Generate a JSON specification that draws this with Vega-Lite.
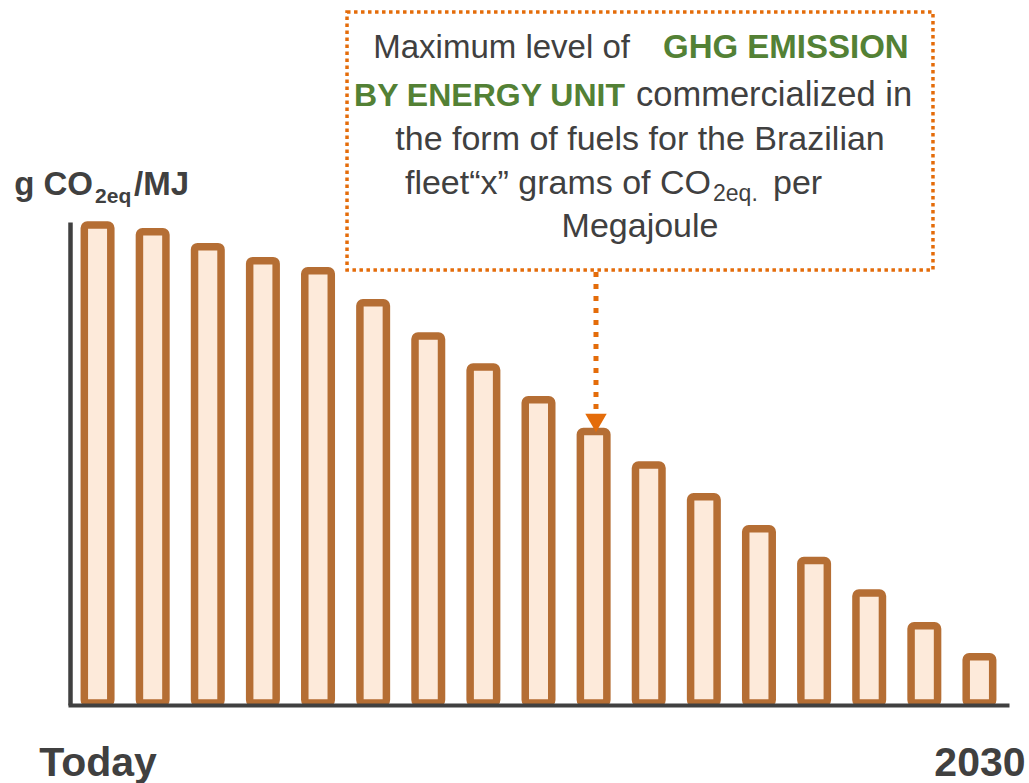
{
  "$schema": "https://vega.github.io/schema/vega-lite/v6.json",
  "width": 937,
  "height": 483,
  "autosize": {"type": "none"},
  "padding": {"left": 70, "top": 222, "right": 22, "bottom": 78},
  "background": "white",
  "config": {"view": {"stroke": null}, "text": {"font": "Liberation Sans", "color": "#404040"}},
  "layer": [
    {
      "data": {"values": [
        {"step": 1, "value": 99.4}, {"step": 2, "value": 98.0}, {"step": 3, "value": 94.9},
        {"step": 4, "value": 92.0}, {"step": 5, "value": 89.9}, {"step": 6, "value": 83.3},
        {"step": 7, "value": 76.4}, {"step": 8, "value": 70.0}, {"step": 9, "value": 63.2},
        {"step": 10, "value": 56.6}, {"step": 11, "value": 49.7}, {"step": 12, "value": 43.1},
        {"step": 13, "value": 36.5}, {"step": 14, "value": 29.9}, {"step": 15, "value": 23.2},
        {"step": 16, "value": 16.4}, {"step": 17, "value": 10.0}
      ]},
      "mark": {"type": "bar", "width": 26.5, "fill": "#FDEADA", "stroke": "#B56E34", "strokeWidth": 7.5, "cornerRadius": 3},
      "encoding": {
        "x": {"field": "step", "type": "quantitative",
          "scale": {"domain": [0.5, 17.5], "nice": false, "zero": false, "padding": 0},
          "axis": {"values": [1, 17], "labelExpr": "datum.value == 1 ? 'Today' : '2030'",
            "domain": true, "domainColor": "#404040", "domainWidth": 4, "domainCap": "square",
            "ticks": false, "tickSize": 0, "grid": false, "title": null,
            "labelFont": "Liberation Sans", "labelFontWeight": "bold", "labelFontSize": 41,
            "labelColor": "#404040", "labelBaseline": "alphabetic", "labelPadding": 70,
            "labelFlush": false, "labelOverlap": false, "labelBound": false, "zindex": 1}},
        "y": {"field": "value", "type": "quantitative",
          "scale": {"domain": [0, 100], "nice": false, "padding": 0},
          "axis": {"domain": true, "domainColor": "#404040", "domainWidth": 4.5, "ticks": false,
            "labels": false, "grid": false, "title": null, "zindex": 1}},
        "y2": {"datum": 0.4}
      }
    },
    {
      "data": {"values": [{}]},
      "mark": {"type": "rect", "fillOpacity": 0, "stroke": "#E46C0A", "strokeWidth": 3.5, "strokeDash": [3.5, 3.5]},
      "encoding": {"x": {"datum": 5.526}, "x2": {"datum": 16.157}, "y": {"datum": 143.48}, "y2": {"datum": 90.06}}
    },
    {
      "data": {"values": [{}]},
      "mark": {"type": "rule", "stroke": "#E46C0A", "strokeWidth": 5, "strokeDash": [5, 7], "strokeCap": "butt"},
      "encoding": {"x": {"datum": 10.043}, "y": {"datum": 89.65}, "y2": {"datum": 60.04}}
    },
    {
      "data": {"values": [{}]},
      "mark": {"type": "point", "shape": "triangle-down", "filled": true, "fill": "#E46C0A", "size": 460, "opacity": 1},
      "encoding": {"x": {"datum": 10.043}, "y": {"datum": 58.4}}
    },
    {
      "data": {"values": [{}]},
      "mark": {"type": "text", "text": "Maximum level of", "align": "right", "baseline": "alphabetic", "fontSize": 33},
      "encoding": {"x": {"datum": 10.66}, "y": {"datum": 133.95}}
    },
    {
      "data": {"values": [{}]},
      "mark": {"type": "text", "text": "GHG EMISSION", "align": "left", "baseline": "alphabetic", "fontSize": 33, "fontWeight": "bold", "color": "#538135"},
      "encoding": {"x": {"datum": 11.259}, "y": {"datum": 133.95}}
    },
    {
      "data": {"values": [{}]},
      "mark": {"type": "text", "text": "BY ENERGY UNIT", "align": "right", "baseline": "alphabetic", "fontSize": 32, "fontWeight": "bold", "color": "#538135"},
      "encoding": {"x": {"datum": 10.569}, "y": {"datum": 124.02}}
    },
    {
      "data": {"values": [{}]},
      "mark": {"type": "text", "text": "commercialized in", "align": "left", "baseline": "alphabetic", "fontSize": 34.5},
      "encoding": {"x": {"datum": 10.769}, "y": {"datum": 124.02}}
    },
    {
      "data": {"values": [{}]},
      "mark": {"type": "text", "text": "the form of fuels for the Brazilian", "align": "center", "baseline": "alphabetic", "fontSize": 34},
      "encoding": {"x": {"datum": 10.842}, "y": {"datum": 114.91}}
    },
    {
      "data": {"values": [{}]},
      "mark": {"type": "text", "text": "fleet“x” grams of CO", "align": "right", "baseline": "alphabetic", "fontSize": 34},
      "encoding": {"x": {"datum": 12.13}, "y": {"datum": 105.8}}
    },
    {
      "data": {"values": [{}]},
      "mark": {"type": "text", "text": "2eq.", "align": "left", "baseline": "alphabetic", "fontSize": 23},
      "encoding": {"x": {"datum": 12.166}, "y": {"datum": 104.35}}
    },
    {
      "data": {"values": [{}]},
      "mark": {"type": "text", "text": "per", "align": "left", "baseline": "alphabetic", "fontSize": 34},
      "encoding": {"x": {"datum": 13.254}, "y": {"datum": 105.8}}
    },
    {
      "data": {"values": [{}]},
      "mark": {"type": "text", "text": "Megajoule", "align": "center", "baseline": "alphabetic", "fontSize": 34},
      "encoding": {"x": {"datum": 10.842}, "y": {"datum": 96.89}}
    },
    {
      "data": {"values": [{}]},
      "mark": {"type": "text", "text": "g CO", "align": "right", "baseline": "alphabetic", "fontSize": 33, "fontWeight": "bold"},
      "encoding": {"x": {"datum": 0.917}, "y": {"datum": 105.59}}
    },
    {
      "data": {"values": [{}]},
      "mark": {"type": "text", "text": "2eq", "align": "left", "baseline": "alphabetic", "fontSize": 21, "fontWeight": "bold"},
      "encoding": {"x": {"datum": 0.954}, "y": {"datum": 103.93}}
    },
    {
      "data": {"values": [{}]},
      "mark": {"type": "text", "text": "/MJ", "align": "left", "baseline": "alphabetic", "fontSize": 33, "fontWeight": "bold"},
      "encoding": {"x": {"datum": 1.661}, "y": {"datum": 105.59}}
    }
  ]
}
